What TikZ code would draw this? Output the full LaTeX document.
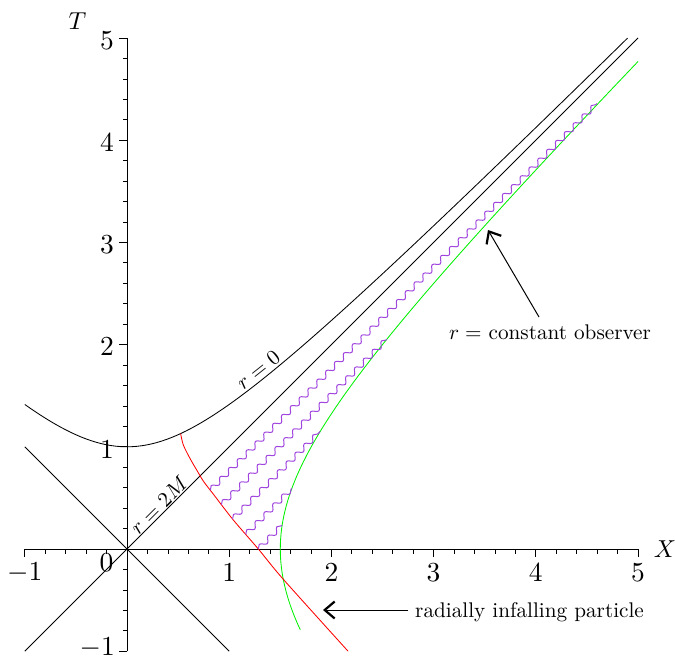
\documentclass[tikz,border=0pt]{standalone}
\usepackage{graphicx}
\usetikzlibrary{decorations.pathmorphing,arrows.meta}
\definecolor{raycol}{RGB}{160,70,222}
\definecolor{obscol}{RGB}{0,240,0}
\definecolor{partcol}{RGB}{255,0,0}
\newcommand{\tkl}[1]{\scalebox{2.75}{#1}}
\newcommand{\axl}[1]{\scalebox{2.45}{#1}}
\newcommand{\ann}[1]{\scalebox{2.12}{#1}}
\begin{document}
\begin{tikzpicture}[x=102.2pt,y=102.2pt,
  curve/.style={line width=0.85pt},
  axisline/.style={line width=0.9pt},
  lbl/.style={inner sep=0pt},
  ray/.style={raycol, line width=1pt, decorate,
    decoration={snake, amplitude=2.6pt, segment length=12.5pt}},
  arr/.style={line width=1pt, -{Straight Barb[length=10pt,width=17pt,line width=2.2pt]}}]
\useasboundingbox (-127pt,-113pt) rectangle (548pt,549pt);
% axes
\draw[axisline] (-1,0) -- (5,0);
\draw[axisline] (0,-1) -- (0,5);
\foreach \k in {-5,...,25} {
  \draw[line width=0.7pt] (\k/5,0) -- ++(0,-4.5pt);
  \draw[line width=0.7pt] (0,\k/5) -- ++(-4.5pt,0);
}
\foreach \i in {-1,...,5} {
  \draw[line width=0.8pt] (\i,0) -- ++(0,-8pt);
  \draw[line width=0.8pt] (0,\i) -- ++(-8.5pt,0);
}
\foreach \i in {1,...,5} {
  \node[lbl] (xl\i) at ([yshift=-24pt]\i,0) {\tkl{$\i$}};
  \node[lbl, anchor=east] (yl\i) at ([xshift=-13pt,yshift=-2.5pt]0,\i) {\tkl{$\i$}};
}
\node[lbl] (xlm) at ([yshift=-24pt]-1,0) {\tkl{$-1$}};
\node[lbl, anchor=east] (ylm) at ([xshift=-12pt,yshift=3pt]0,-1) {\tkl{$-1$}};
\node[lbl] (zero) at (-20.5pt,-13.5pt) {\tkl{$0$}};
\node[lbl] (Tlab) at (-49.5pt,528pt) {\axl{$T$}};
\node[lbl] (Xlab) at (538pt,0pt) {\axl{$X$}};
% light cone lines
\draw[curve] (-1,-1) -- (5,5);
\draw[curve] (-1,1) -- (1,-1);
% r=0 hyperbola
\draw[curve] plot[domain=-1:4.899, samples=120] (\x,{sqrt(1+\x*\x)});
% observer
\draw[curve, obscol] plot[domain=-0.79:4.77, samples=120] ({sqrt(2.25+\x*\x)},\x);
% infalling particle
\draw[curve, partcol] plot[smooth] coordinates {(0.525,1.129) (0.551,1.018) (0.616,0.887) (0.682,0.773) (0.75,0.66) (0.85,0.53) (1.04,0.284) (1.285,0) (1.53,-0.297) (2.163,-1.0)};
% light rays
\coordinate (s1) at (0.815,0.575); \coordinate (e1) at (4.60,4.36);
\coordinate (s2) at (0.924,0.434); \coordinate (e2) at (2.541,2.051);
\coordinate (s3) at (1.033,0.293); \coordinate (e3) at (1.890,1.150);
\coordinate (s4) at (1.162,0.142); \coordinate (e4) at (1.613,0.593);
\coordinate (s5) at (1.285,0.0);   \coordinate (e5) at (1.518,0.233);
\foreach \j in {1,...,5} \draw[ray] (s\j) -- (e\j);
% labels on curves
\node[lbl, rotate=38.5] (rzero) at (131.3pt,179pt) {\ann{$r=0$}};
\node[lbl, rotate=45] (rtwo) at (32pt,44pt) {\ann{$r=2M$}};
% annotations
\node[lbl, anchor=base] (obs) at (423pt,209pt) {\ann{$r=$ constant observer}};
\coordinate (obsTail) at (412pt,232pt);
\coordinate (obsTip) at (361pt,319pt);
\draw[arr] (obsTail) -- (obsTip);
\node[lbl, anchor=base west] (part) at (288pt,-68pt) {\ann{radially infalling particle}};
\coordinate (partTail) at (281pt,-61pt);
\coordinate (partTip) at (196pt,-61pt);
\draw[arr] (partTail) -- (partTip);
\end{tikzpicture}
\end{document}
